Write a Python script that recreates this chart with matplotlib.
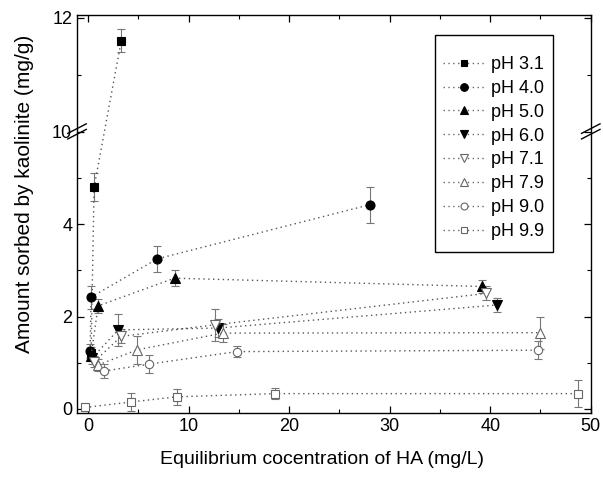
import numpy as np
import matplotlib
matplotlib.use("Agg")
import matplotlib.pyplot as plt
from matplotlib.ticker import FixedLocator
from matplotlib.lines import Line2D
from matplotlib.patches import Rectangle

plt.rcParams['font.family'] = ['Liberation Sans', 'DejaVu Sans']

labels = ["pH 3.1", "pH 4.0", "pH 5.0", "pH 6.0", "pH 7.1", "pH 7.9", "pH 9.0", "pH 9.9"]
x_31 = [0.3, 0.6, 3.3];            y_31 = [1.2, 4.8, 11.6];          e_31 = [0.15, 0.3, 0.2]
x_40 = [0.2, 0.3, 6.9, 28.0];      y_40 = [1.25, 2.42, 3.25, 4.42];  e_40 = [0.15, 0.25, 0.28, 0.39]
x_50 = [0.3, 1.0, 8.6, 39.2];      y_50 = [1.15, 2.23, 2.83, 2.65];  e_50 = [0.12, 0.15, 0.18, 0.15]
x_60 = [0.4, 3.0, 12.9, 40.7];     y_60 = [1.1, 1.71, 1.75, 2.25];   e_60 = [0.12, 0.35, 0.2, 0.15]
x_71 = [0.6, 3.3, 12.6, 39.6];     y_71 = [1.02, 1.57, 1.82, 2.5];   e_71 = [0.12, 0.15, 0.35, 0.15]
x_79 = [1.0, 4.9, 13.4, 45.0];     y_79 = [0.95, 1.28, 1.64, 1.65];  e_79 = [0.12, 0.3, 0.2, 0.35]
x_90 = [1.6, 6.1, 14.8, 44.8];     y_90 = [0.82, 0.97, 1.24, 1.27];  e_90 = [0.15, 0.2, 0.12, 0.2]
x_99 = [-0.3, 4.3, 8.8, 18.6, 48.7]; y_99 = [0.03, 0.15, 0.26, 0.33, 0.33]; e_99 = [0.05, 0.2, 0.18, 0.12, 0.3]

xs = [x_31, x_40, x_50, x_60, x_71, x_79, x_90, x_99]
ys = [y_31, y_40, y_50, y_60, y_71, y_79, y_90, y_99]
es = [e_31, e_40, e_50, e_60, e_71, e_79, e_90, e_99]
markers = ['s', 'o', '^', 'v', 'v', '^', 'o', 's']
filled = [True, True, True, True, False, False, False, False]
msizes = [5.5, 6.5, 7, 7, 6.5, 6.5, 6, 5.5]

# broken y axis: lower 0..6, upper 10..12
B, T, K = 6.0, 10.0, 57.0 / 46.2

def fwd(y):
    y = np.asarray(y, dtype=float)
    return np.where(y <= B, y, np.where(y >= T, B + (y - T) * K, B))

def inv(u):
    u = np.asarray(u, dtype=float)
    return np.where(u <= B, u, T + (u - B) / K)

fig = plt.figure(figsize=(6.03, 4.83), dpi=100)
ax = fig.add_axes([0.1277, 0.1449, 0.852, 0.824])
ax.set_yscale('function', functions=(fwd, inv))

handles = []
for xv, yv, ev, m, f, ms, lab in zip(xs, ys, es, markers, filled, msizes, labels):
    fc = 'black' if f else 'white'
    ax.errorbar(xv, yv, yerr=ev, fmt='none', ecolor='#777777', elinewidth=0.8,
                capsize=3, capthick=0.8, zorder=2)
    ax.plot(xv, yv, linestyle=(0, (1, 2.5)), color='#555555', linewidth=1.0,
            marker=m, markersize=ms, markerfacecolor=fc,
            markeredgecolor='black' if f else '#666666', markeredgewidth=0.8, zorder=3)
    handles.append(Line2D([], [], linestyle=(0, (1, 2.5)), color='#666666', linewidth=1.0,
                          marker=m, markersize=ms - 1, markerfacecolor=fc,
                          markeredgecolor='black' if f else '#666666', markeredgewidth=0.8,
                          label=lab))

ax.set_xlim(-1.1, 50)
ax.set_ylim(-0.09, 12.05)
ax.xaxis.set_major_locator(FixedLocator([0, 10, 20, 30, 40, 50]))
ax.xaxis.set_minor_locator(FixedLocator([5, 15, 25, 35, 45]))
ax.yaxis.set_major_locator(FixedLocator([0, 2, 4, 10, 12]))
ax.yaxis.set_minor_locator(FixedLocator([1, 3, 5, 11]))
ax.set_yticklabels(['0', '2', '4', '10', '12'])
ax.tick_params(which='both', direction='in', top=True, right=True, labelsize=13)
ax.tick_params(which='major', length=5, width=0.9)
ax.tick_params(which='minor', length=3, width=0.8)
for sp in ax.spines.values():
    sp.set_linewidth(1.0)

# break marks
ub = (B - fwd(-0.09)) / (fwd(12.05) - fwd(-0.09))
for xa in (0.0, 1.0):
    for dy in (-0.006, 0.008):
        ax.plot([xa - 0.018, xa + 0.018], [ub + dy - 0.012, ub + dy + 0.012],
                transform=ax.transAxes, color='black', linewidth=1.0, clip_on=False, zorder=5)

ax.set_xlabel('Equilibrium cocentration of HA (mg/L)', fontsize=14)
ax.set_ylabel('Amount sorbed by kaolinite (mg/g)', fontsize=15)
ax.xaxis.set_label_coords(0.477, -0.095)
ax.yaxis.set_label_coords(-0.084, 0.55)

leg = ax.legend(handles=handles, loc='upper left', bbox_to_anchor=(0.712, 0.897),
                fontsize=13, frameon=False,
                handlelength=2.4, labelspacing=0.38, borderpad=0, handletextpad=0.25,
                borderaxespad=0)
ax.add_patch(Rectangle((0.6965, 0.4045), 0.926 - 0.6965, 0.95 - 0.4045,
                       transform=ax.transAxes, fill=False, edgecolor='black',
                       linewidth=1.0, zorder=6))

fig.savefig('out.png', dpi=100)
